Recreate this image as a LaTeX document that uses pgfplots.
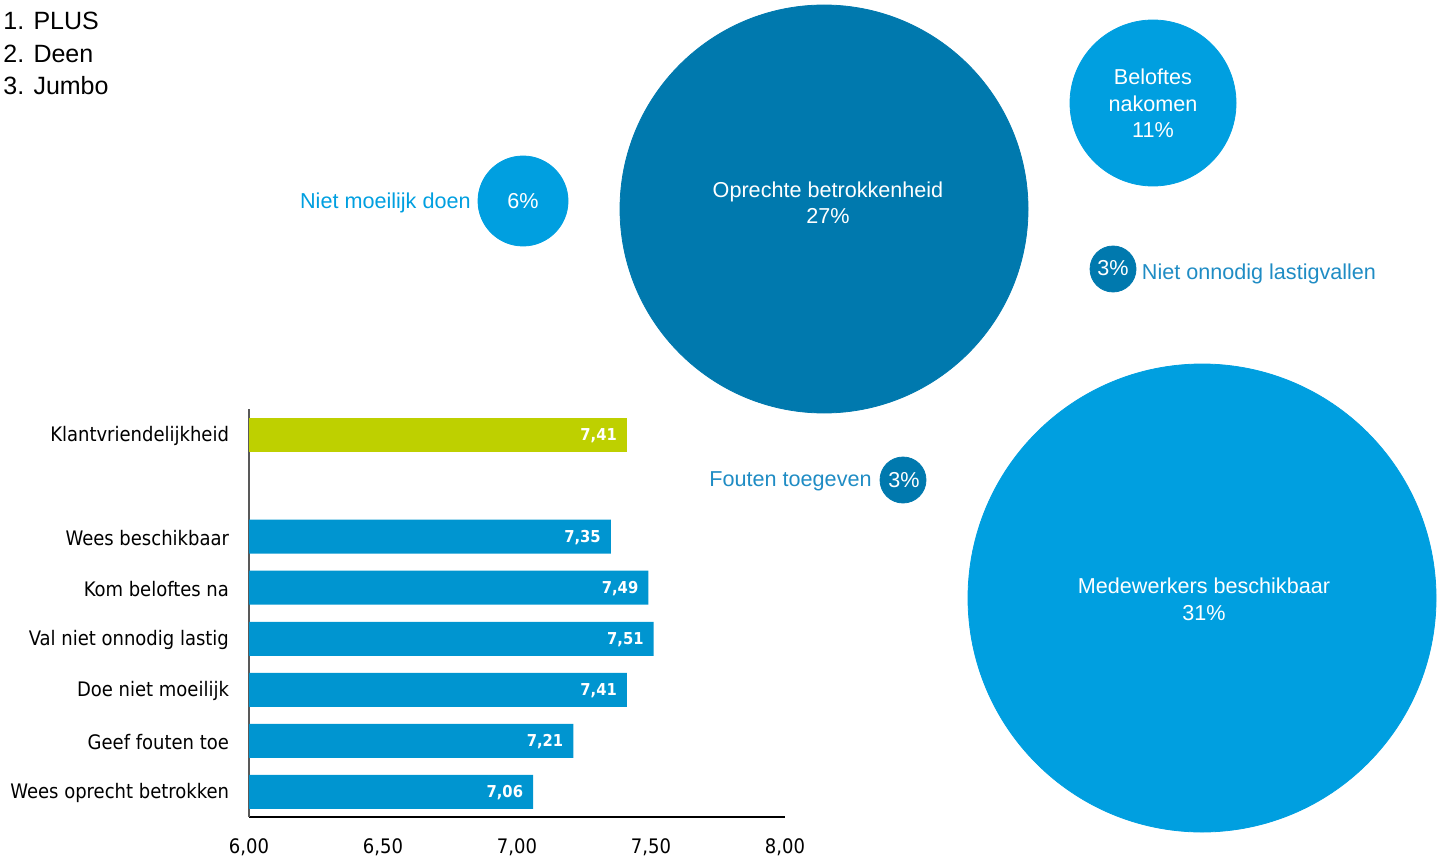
\documentclass[border=0pt]{standalone}
\usepackage{pgfplots}
\pgfplotsset{compat=1.18}
\usepackage{fontspec}
\setmainfont{DejaVu Sans Condensed}
\newfontfamily\bubfont{Liberation Sans}
\definecolor{barblue}{HTML}{0095D0}
\definecolor{bargreen}{HTML}{BED000}
\definecolor{bubdark}{HTML}{0079AE}
\definecolor{bublight}{HTML}{009FE0}
\definecolor{labdark}{HTML}{1F8CC4}
\pgfplotsset{pixelaxis/.style={
  at={(0,0)}, anchor=south west,
  width=721.5pt, height=430.5pt, scale only axis,
  xmin=0, xmax=1443, ymin=0, ymax=861, y dir=reverse,
  hide axis, clip=false}}
\begin{document}
\begin{tikzpicture}
% ---------- background axis in pixel units (bubbles) ----------
\begin{axis}[pixelaxis]
\addplot[scatter, only marks, mark=*,
  scatter/use mapped color={draw=bubdark, fill=bubdark},
  visualization depends on={\thisrow{r}/2 \as \rr},
  scatter/@pre marker code/.append style={/tikz/mark size=\rr pt}]
  table {
  x    y   r
  824  209 204
  1113 269 23
  903  480 23
  };
\addplot[scatter, only marks, mark=*,
  scatter/use mapped color={draw=bublight, fill=bublight},
  visualization depends on={\thisrow{r}/2 \as \rr},
  scatter/@pre marker code/.append style={/tikz/mark size=\rr pt}]
  table {
  x    y   r
  523  201 45
  1153 103 83
  1202 598 234
  };
\end{axis}
% ---------- text layer in pixel units ----------
\begin{axis}[pixelaxis]
\begin{scope}[every node/.style={inner sep=0pt, font=\bubfont\fontsize{10.8}{13}\selectfont}]
\node[anchor=base east, text=bublight] at (axis cs:471,208.5) {Niet moeilijk doen};
\node[anchor=base, text=white] at (axis cs:523,208.5) {6\%};
\node[anchor=base, text=white] at (axis cs:828,198) {Oprechte betrokkenheid};
\node[anchor=base, text=white] at (axis cs:828,224) {27\%};
\node[anchor=base, text=white] at (axis cs:1153,85) {Beloftes};
\node[anchor=base, text=white] at (axis cs:1153,111.5) {nakomen};
\node[anchor=base, text=white] at (axis cs:1153,138) {11\%};
\node[anchor=base, text=white] at (axis cs:1113,276) {3\%};
\node[anchor=base west, text=labdark] at (axis cs:1141.5,279.3) {Niet onnodig lastigvallen};
\node[anchor=base east, text=labdark] at (axis cs:872,486.7) {Fouten toegeven};
\node[anchor=base, text=white] at (axis cs:904,487.7) {3\%};
\node[anchor=base, text=white] at (axis cs:1204,593) {Medewerkers beschikbaar};
\node[anchor=base, text=white] at (axis cs:1204,620) {31\%};
\end{scope}
\begin{scope}[every node/.style={inner sep=0pt, anchor=base west, font=\bubfont\fontsize{12.5}{14}\selectfont}]
\node at (axis cs:3,29.5) {1. PLUS};
\node at (axis cs:3,62.5) {2. Deen};
\node at (axis cs:3,95) {3. Jumbo};
\end{scope}
\end{axis}
% ---------- bar chart ----------
\begin{axis}[
  at={(124.5pt,22pt)}, anchor=south west,
  width=268pt, height=204pt, scale only axis,
  xbar, bar width=17pt,
  xmin=6, xmax=8, ymin=-0.49, ymax=7.5,
  axis x line*=bottom, axis y line*=left,
  x axis line style={-, line width=0.6pt, black},
  y axis line style={-, line width=0.6pt, black!65},
  major tick length=0pt,
  xtick={6,6.5,7,7.5,8},
  /pgf/number format/assume math mode=true,
  x tick label style={/pgf/number format/.cd, fixed, fixed zerofill, precision=2, use comma, /tikz/.cd, font=\fontsize{10}{11}\selectfont, yshift=-7.5pt},
  ytick={0,1,2,3,4,5,7},
  yticklabels={Wees oprecht betrokken, Geef fouten toe, Doe niet moeilijk, Val niet onnodig lastig, Kom beloftes na, Wees beschikbaar, Klantvriendelijkheid},
  y tick label style={font=\fontsize{10}{12}\selectfont, xshift=-6.5pt, yshift=-0.5pt},
  point meta=x,
  nodes near coords={\pgfmathprintnumber[fixed,fixed zerofill,precision=2,use comma]{\pgfplotspointmeta}},
  every node near coord/.append style={anchor=east, text=white, font=\bfseries\fontsize{8.2}{9}\selectfont, xshift=-1.5pt, yshift=-0.5pt},
]
\addplot[fill=barblue, draw=none, bar shift=0pt] coordinates {(7.06,0) (7.21,1) (7.41,2) (7.51,3) (7.49,4) (7.35,5)};
\addplot[fill=bargreen, draw=none, bar shift=0pt] coordinates {(7.41,7)};
\end{axis}
\pgfresetboundingbox
\useasboundingbox (0,0) rectangle (721.5pt,430.5pt);
\end{tikzpicture}
\end{document}
